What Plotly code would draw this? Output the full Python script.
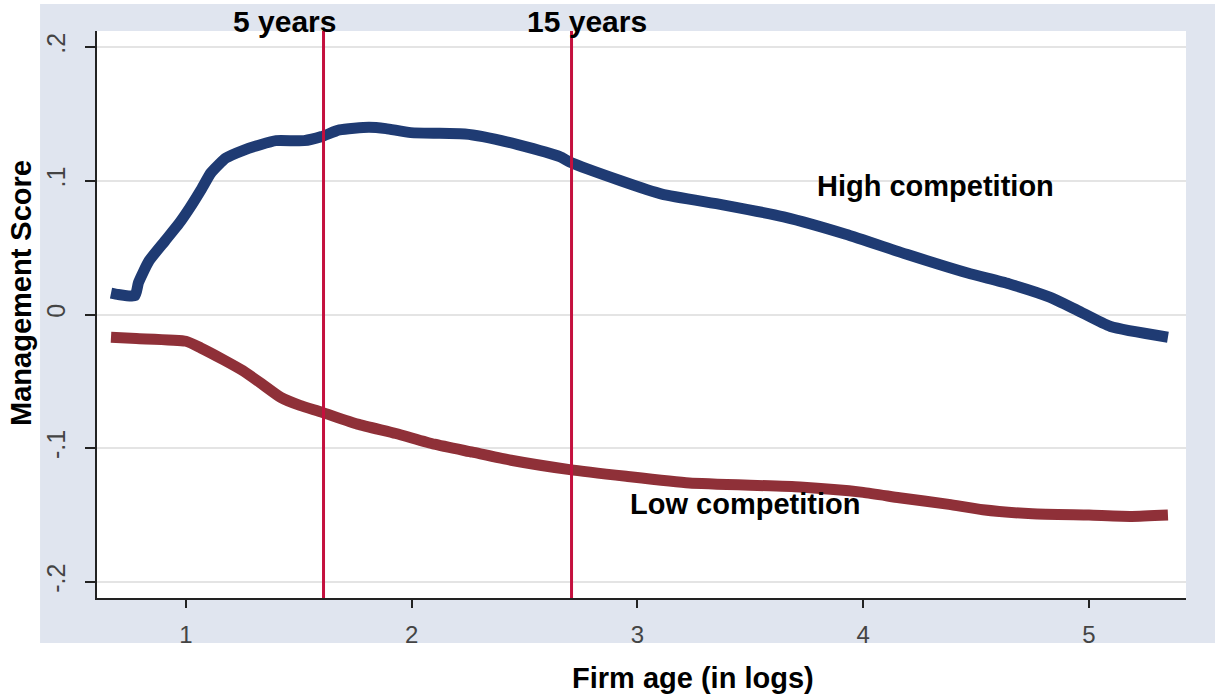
import numpy as np
import plotly.graph_objects as go

# ---- data ----
high_x = [0.668, 0.700, 0.774, 0.790, 0.836, 0.907, 0.969, 1.018, 1.066, 1.111, 1.177, 1.257,
          1.330, 1.399, 1.523, 1.600, 1.680, 1.810, 1.886, 1.996, 2.236, 2.315, 2.470, 2.656,
          2.700, 2.926, 3.108, 3.378, 3.648, 3.923, 4.193, 4.463, 4.645, 4.826, 4.950, 5.096, 5.350]
high_y = [0.016, 0.015, 0.014, 0.024, 0.040, 0.055, 0.068, 0.080, 0.093, 0.106, 0.117, 0.123,
          0.127, 0.130, 0.130, 0.133, 0.138, 0.140, 0.139, 0.136, 0.135, 0.133, 0.127, 0.118,
          0.114, 0.100, 0.090, 0.082, 0.073, 0.060, 0.045, 0.031, 0.023, 0.013, 0.003, -0.009, -0.017]

low_x = [0.668, 0.780, 1.000, 1.066, 1.168, 1.252, 1.337, 1.420, 1.505, 1.600, 1.760, 1.930,
         2.100, 2.270, 2.440, 2.700, 2.950, 3.230, 3.720, 4.000, 4.160, 4.380, 4.530, 4.750,
         5.000, 5.190, 5.350]
low_y = [-0.017, -0.018, -0.020, -0.025, -0.034, -0.042, -0.052, -0.062, -0.068, -0.073, -0.082, -0.089,
         -0.097, -0.103, -0.109, -0.116, -0.121, -0.126, -0.129, -0.133, -0.137, -0.142, -0.146, -0.149,
         -0.150, -0.151, -0.150]

series_names = ["High competition", "Low competition"]
series_label_x = [4.32, 3.478]
series_label_y = [0.096, -0.1416]

vline_years = [5, 15]
vline_labels = ["5 years", "15 years"]
vline_label_x = [1.436, 2.778]

x_ticks = [1, 2, 3, 4, 5]
y_ticks = [-0.2, -0.1, 0.0, 0.1, 0.2]
y_ticktext = ["-.2", "-.1", "0", ".1", ".2"]

x_title = "Firm age (in logs)"
y_title = "Management Score"

# ---- styling ----
NAVY = "#1F3B73"
MAROON = "#8F3038"
VRED = "#C4103E"
PANEL = "#E0E5EF"
FONT = "Liberation Sans, Arial, sans-serif"

fig = go.Figure()
fig.add_trace(go.Scatter(x=high_x, y=high_y, mode="lines", name=series_names[0],
                         line=dict(color=NAVY, width=11, shape="spline", smoothing=0.5),
                         showlegend=False))
fig.add_trace(go.Scatter(x=low_x, y=low_y, mode="lines", name=series_names[1],
                         line=dict(color=MAROON, width=11, shape="spline", smoothing=0.5),
                         showlegend=False))

shapes = [
    dict(type="rect", xref="paper", yref="paper", x0=-0.0523, x1=1.03, y0=-0.0794, y1=1.0476,
         fillcolor=PANEL, line=dict(width=0), layer="below"),
    dict(type="rect", xref="paper", yref="paper", x0=0, x1=1, y0=0, y1=1,
         fillcolor="white", line=dict(width=0), layer="below"),
]
for yr in vline_years:
    xv = float(np.log(yr))
    shapes.append(dict(type="line", xref="x", yref="paper", x0=xv, x1=xv, y0=0, y1=1,
                       line=dict(color=VRED, width=3), layer="above"))

annotations = []
for lab, lx in zip(vline_labels, vline_label_x):
    annotations.append(dict(text="<b>%s</b>" % lab, x=lx, y=1.017, xref="x", yref="paper",
                            showarrow=False, xanchor="center", yanchor="middle",
                            font=dict(size=30, color="black", family=FONT)))
for lab, lx, ly in zip(series_names, series_label_x, series_label_y):
    annotations.append(dict(text="<b>%s</b>" % lab, x=lx, y=ly, xref="x", yref="y",
                            showarrow=False, xanchor="center", yanchor="middle",
                            font=dict(size=29, color="black", family=FONT)))
annotations.append(dict(text="<b>%s</b>" % x_title, x=0.547, y=-0.141, xref="paper", yref="paper",
                        showarrow=False, xanchor="center", yanchor="middle",
                        font=dict(size=29, color="black", family=FONT)))
annotations.append(dict(text="<b>%s</b>" % y_title, x=-0.0698, y=0.538, xref="paper", yref="paper",
                        showarrow=False, xanchor="center", yanchor="middle", textangle=-90,
                        font=dict(size=29, color="black", family=FONT)))

fig.update_layout(
    width=1215, height=696,
    margin=dict(l=97, r=29, t=31, b=98),
    paper_bgcolor="white", plot_bgcolor="white",
    shapes=shapes, annotations=annotations,
    font=dict(family=FONT),
    xaxis=dict(range=[0.606, 5.43], tickvals=x_ticks, ticks="outside", ticklen=8,
               tickwidth=2, tickcolor="#222", showline=True, linecolor="#222", linewidth=2,
               showgrid=False, zeroline=False, ticklabelstandoff=6,
               tickfont=dict(size=24, color="#444", family=FONT)),
    yaxis=dict(range=[-0.212, 0.212], tickvals=y_ticks, ticktext=y_ticktext, tickangle=-90,
               ticks="outside", ticklen=10, tickwidth=2, tickcolor="#222",
               showline=True, linecolor="#222", linewidth=2,
               showgrid=True, gridcolor="#E4E4E4", gridwidth=2, zeroline=False,
               ticklabelstandoff=10,
               tickfont=dict(size=25, color="#444", family=FONT)),
)

# remove the browser's default 8px body margin so the figure fills the window exactly
fig.write_html("out.html",
               config={"displayModeBar": False},
               post_script="document.body.style.margin='0px';document.body.style.overflow='hidden';")
